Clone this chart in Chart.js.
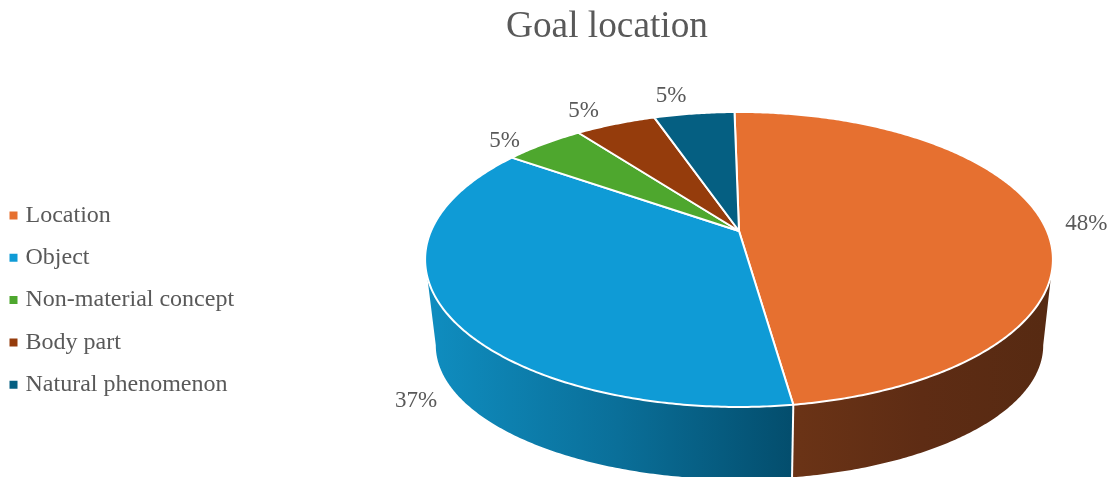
<!DOCTYPE html>
<html lang="en">
<head>
    <meta charset="UTF-8">
    <title>Goal location</title>
    <style>
        body { margin: 0; background: #fff; }
    </style>
</head>
<body>
    <canvas id="chart" width="1109" height="477"></canvas>
    <script src="https://cdn.jsdelivr.net/npm/chart.js"></script>
    <script type="text/javascript">
        const categories = ['Location', 'Object', 'Non-material concept', 'Body part', 'Natural phenomenon']
        const shares = [48, 37, 5, 5, 5]
        const sliceColors = ['#E67030', '#0F9BD6', '#4EA72E', '#953C0C', '#055F82']

        const font = 'Liberation Serif'
        const textColor = '#595959'

        // tilted disc seen in perspective: top face and bottom rim
        const persp = 0.193
        const topFace = { x: 739, y: 231, a: 308, b: 142 }
        const bottomRim = { x: 739.5, y: 319.5, a: 298, b: 129 }

        // side wall shading, only the two front slices show a wall
        const wallStops = {
            0: ['#6A3316', '#5E2C14', '#572A12'],
            1: ['#0F8CBE', '#0A6F99', '#034C6B']
        }
        const wallSpan = {
            0: [800, 1043],
            1: [436, 800]
        }

        // where each percent label sits relative to the rim at the slice middle
        const labelOffset = [[45, 4], [-31, 87], [-39, -3], [-32, -13], [-23, -18]]

        function project(face, angle) {
            const u = Math.cos(angle), v = Math.sin(angle)
            const w = 1 - persp * v
            return [face.x + face.a * u / w, face.y + face.b * v / w]
        }

        function rimPoints(face, from, to) {
            const n = Math.max(2, Math.ceil(Math.abs(to - from) / 0.01))
            const pts = []
            for (let i = 0; i <= n; i++) {
                pts.push(project(face, from + (to - from) * i / n))
            }
            return pts
        }

        function trace(ctx, pts) {
            pts.forEach((p, i) => i ? ctx.lineTo(p[0], p[1]) : ctx.moveTo(p[0], p[1]))
        }

        const pie3d = {
            id: 'pie3d',
            afterLayout(chart) {
                // title sits over the pie side, legend hugs the left edge
                chart.titleBlock.left = 105
                chart.legend.left = -4.8
                chart.legend.top = 185.2
            },
            beforeDatasetsDraw(chart) {
                const ctx = chart.ctx
                const arcs = chart.getDatasetMeta(0).data
                const edge = Math.asin(persp)

                // walls first, the top face then covers their upper edge
                arcs.forEach((arc, i) => {
                    if (!wallStops[i]) return
                    const from = Math.max(arc.startAngle, edge)
                    const to = Math.min(arc.endAngle, Math.PI - edge)
                    const grad = ctx.createLinearGradient(wallSpan[i][0], 0, wallSpan[i][1], 0)
                    wallStops[i].forEach((c, k) => grad.addColorStop(k / 2, c))
                    ctx.beginPath()
                    trace(ctx, rimPoints(topFace, from, to))
                    rimPoints(bottomRim, to, from).forEach(p => ctx.lineTo(p[0], p[1]))
                    ctx.closePath()
                    ctx.fillStyle = grad
                    ctx.fill()
                })

                // white seam between the two walls
                const seam = arcs[0].endAngle
                const a = project(topFace, seam), b = project(bottomRim, seam)
                ctx.beginPath()
                ctx.moveTo(a[0], a[1])
                ctx.lineTo(b[0], b[1])
                ctx.strokeStyle = '#fff'
                ctx.lineWidth = 2
                ctx.stroke()

                arcs.forEach((arc, i) => {
                    ctx.beginPath()
                    ctx.moveTo(topFace.x, topFace.y)
                    rimPoints(topFace, arc.startAngle, arc.endAngle).forEach(p => ctx.lineTo(p[0], p[1]))
                    ctx.closePath()
                    ctx.fillStyle = sliceColors[i]
                    ctx.fill()
                    ctx.strokeStyle = '#fff'
                    ctx.lineWidth = 2
                    ctx.lineJoin = 'round'
                    ctx.stroke()
                })

                ctx.font = '23px "' + font + '"'
                ctx.fillStyle = textColor
                ctx.textAlign = 'center'
                ctx.textBaseline = 'middle'
                arcs.forEach((arc, i) => {
                    const p = project(topFace, (arc.startAngle + arc.endAngle) / 2)
                    ctx.fillText(shares[i] + '%', p[0] + labelOffset[i][0], p[1] + labelOffset[i][1])
                })
                return false
            }
        }

        new Chart(document.getElementById('chart'), {
            type: 'pie',
            data: {
                labels: categories,
                datasets: [{
                    data: shares,
                    backgroundColor: sliceColors,
                    borderWidth: 0,
                    rotation: -1
                }]
            },
            options: {
                responsive: false,
                animation: false,
                plugins: {
                    title: {
                        display: true,
                        text: 'Goal location',
                        color: textColor,
                        font: { family: font, size: 37.3, weight: 'normal' },
                        padding: { top: 5, bottom: 10 }
                    },
                    legend: {
                        position: 'left',
                        align: 'start',
                        labels: {
                            color: textColor,
                            font: { family: font, size: 24 },
                            usePointStyle: true,
                            pointStyle: 'rect',
                            boxWidth: 0.01,
                            boxHeight: 8,
                            padding: 18.3
                        }
                    },
                    tooltip: { enabled: false }
                }
            },
            plugins: [pie3d]
        })
    </script>
</body>
</html>
